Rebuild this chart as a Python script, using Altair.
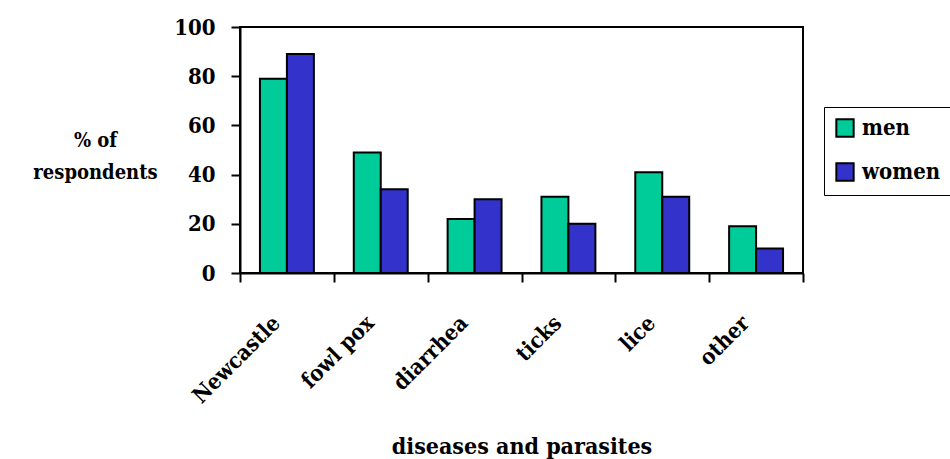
import altair as alt
import pandas as pd

categories = ["Newcastle", "fowl pox", "diarrhea", "ticks", "lice", "other"]
groups = ["men", "women"]
men = [79, 49, 22, 31, 41, 19]
women = [89, 34, 30, 20, 31, 10]
colors = ["#00CC99", "#3333CC"]

rows = []
for c, m, w in zip(categories, men, women):
    rows.append({"disease": c, "group": "men", "pct": m})
    rows.append({"disease": c, "group": "women", "pct": w})
df = pd.DataFrame(rows)

FONT = "DejaVu Serif Condensed"
FS = 22
TFS = 23

chart = alt.Chart(df).mark_bar(stroke="black", strokeWidth=2).encode(
    x=alt.X(
        "disease:N", sort=categories,
        scale=alt.Scale(paddingInner=0, paddingOuter=0),
        axis=alt.Axis(
            title="diseases and parasites", labelAngle=-45, labelAlign="right",
            labelBaseline="alphabetic", labelPadding=42, labelOffset=-6,
            tickBand="extent", tickSize=9, titleY=180, titleBaseline="alphabetic",
        ),
    ),
    xOffset=alt.XOffset(
        "group:N", sort=groups,
        scale=alt.Scale(paddingInner=0, paddingOuter=0.74),
    ),
    y=alt.Y(
        "pct:Q", scale=alt.Scale(domain=[0, 100]),
        axis=alt.Axis(
            values=[0, 20, 40, 60, 80, 100], title=["% of", "respondents"],
            titleAngle=0, titleX=-145, titleY=119, titleAlign="center",
            titleBaseline="alphabetic", titleLineHeight=32, grid=False,
            tickSize=9, labelPadding=16, titleFontSize=20,
        ),
    ),
    color=alt.Color(
        "group:N", scale=alt.Scale(domain=groups, range=colors),
        legend=alt.Legend(
            title=None, orient="none", legendX=584, legendY=80,
            symbolType="square", symbolSize=300, symbolStrokeColor="black",
            symbolStrokeWidth=2, symbolOpacity=1, labelFont=FONT, labelFontSize=FS,
            labelFontWeight="bold", labelColor="black", strokeColor="black",
            fillColor="white", padding=10, rowPadding=18, labelOffset=6,
        ),
    ),
).properties(
    width=563, height=246,
    autosize=alt.AutoSizeParams(type="none"),
    padding={"left": 240, "top": 27, "right": 147, "bottom": 186},
).configure_view(
    stroke="black", strokeWidth=2
).configure_axis(
    domainColor="black", domainWidth=2, tickColor="black", tickWidth=2,
    labelFont=FONT, labelFontSize=FS, labelFontWeight="bold", labelColor="black",
    titleFont=FONT, titleFontSize=TFS, titleFontWeight="bold", titleColor="black",
)

chart.save("out.html", embed_options={"renderer": "svg", "actions": False})
